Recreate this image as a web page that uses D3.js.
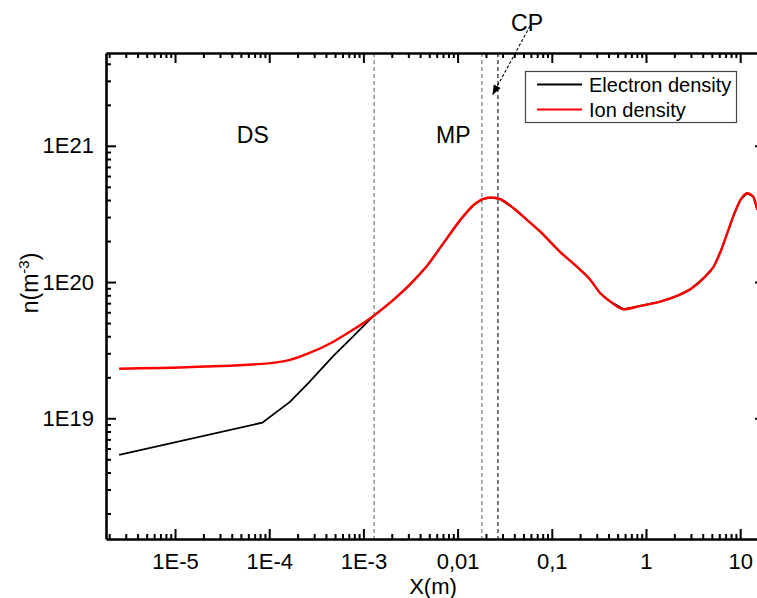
<!DOCTYPE html>
<html>
<head>
<meta charset="utf-8">
<script src="https://cdn.jsdelivr.net/npm/d3@7"></script>
<style>
  body { margin: 0; background: #fff; }
  svg { font-family: "Liberation Sans", Arial, sans-serif; }
  .axis path, .axis line { stroke: #000; }
</style>
</head>
<body>
<div id="chart"></div>
<script>
// X (m) positions where both densities were read
const positions = [2.55e-6, 8.45e-5, 1.66e-4, 2.6e-4, 4.8e-4, 7.23e-4, 1.28e-3, 2.08e-3,
  3.13e-3, 4.72e-3, 7.08e-3, 1.07e-2, 1.48e-2, 1.88e-2, 2.31e-2, 2.84e-2, 3.93e-2,
  5.45e-2, 7.55e-2, 0.123, 0.201, 0.256, 0.327, 0.419, 0.579, 0.871, 1.42, 2.14,
  2.96, 4.10, 5.24, 6.18, 7.28, 8.55, 10.07, 11.86, 13.74, 15.2];

const electronDensity = [5.38e18, 9.29e18, 1.32e19, 1.81e19, 2.87e19, 3.80e19, 5.64e19, 7.39e19,
  9.60e19, 1.31e20, 1.93e20, 2.86e20, 3.68e20, 4.08e20, 4.17e20, 4.06e20, 3.48e20,
  2.86e20, 2.34e20, 1.66e20, 1.23e20, 1.04e20, 8.28e19, 7.18e19, 6.31e19, 6.68e19, 7.18e19, 7.91e19,
  8.85e19, 1.07e20, 1.30e20, 1.67e20, 2.28e20, 3.11e20, 4.01e20, 4.49e20, 4.24e20, 3.39e20];

const ionDensity = [2.31e19, 2.51e19, 2.68e19, 2.99e19, 3.65e19, 4.33e19, 5.64e19, 7.39e19,
  9.60e19, 1.31e20, 1.93e20, 2.86e20, 3.68e20, 4.08e20, 4.17e20, 4.06e20, 3.48e20,
  2.86e20, 2.34e20, 1.66e20, 1.23e20, 1.04e20, 8.28e19, 7.18e19, 6.31e19, 6.68e19, 7.18e19, 7.91e19,
  8.85e19, 1.07e20, 1.30e20, 1.67e20, 2.28e20, 3.11e20, 4.01e20, 4.49e20, 4.24e20, 3.39e20];

const xMajorTicks = [1e-5, 1e-4, 1e-3, 1e-2, 1e-1, 1, 10];
const xTickLabels = ["1E-5", "1E-4", "1E-3", "0,01", "0,1", "1", "10"];
const yMajorTicks = [1e19, 1e20, 1e21];
const yTickLabels = ["1E19", "1E20", "1E21"];

// region boundaries (dashed verticals) and region names
const boundaries = [1.3e-3, 0.0181, 0.0268];
const boundaryColors = ["#7a7a7a", "#7a7a7a", "#222"];
const regionNames = ["DS", "MP"];
const regionCenters = [6.7e-5, 9.0e-3];

const seriesNames = ["Electron density", "Ion density"];
const seriesColors = ["#000000", "#ff0000"];

const width = 757, height = 598;
// the right frame sits just past the picture edge, as in the source figure
const plotLeft = 106, plotRight = 765, plotTop = 53, plotBottom = 539;

const x = d3.scaleLog().domain([1.85e-6, 18.34]).range([plotLeft, plotRight]);
const y = d3.scaleLog().domain([1.3e18, 4.8e21]).range([plotBottom, plotTop]);

function minorTicks(scale) {
  const [a, b] = scale.domain();
  const out = [];
  for (let e = Math.floor(Math.log10(a)); e <= Math.ceil(Math.log10(b)); e++) {
    for (let m = 2; m <= 9; m++) {
      const v = m * Math.pow(10, e);
      if (v >= a && v <= b) out.push(v);
    }
  }
  return out;
}

const svg = d3.select("#chart").append("svg")
  .attr("width", width)
  .attr("height", height);

const defs = svg.append("defs");
defs.append("clipPath").attr("id", "plot-clip")
  .append("rect")
  .attr("x", plotLeft).attr("y", plotTop)
  .attr("width", plotRight - plotLeft).attr("height", plotBottom - plotTop);

defs.append("marker")
  .attr("id", "arrow")
  .attr("viewBox", "0 0 10 10")
  .attr("refX", 10).attr("refY", 5)
  .attr("markerWidth", 10).attr("markerHeight", 10)
  .attr("markerUnits", "userSpaceOnUse")
  .attr("orient", "auto")
  .append("path")
  .attr("d", "M0,1 L10,5 L0,9 Z")
  .attr("fill", "#000");

// dashed region boundaries
svg.selectAll(".boundary")
  .data(boundaries)
  .enter()
  .append("line")
  .attr("class", "boundary")
  .attr("x1", d => x(d)).attr("x2", d => x(d))
  .attr("y1", plotTop).attr("y2", plotBottom)
  .attr("stroke", (d, i) => boundaryColors[i])
  .attr("stroke-width", 1.2)
  .attr("stroke-dasharray", "4,3");

// curves
const electronLine = d3.line()
  .x(d => x(d[0]))
  .y(d => y(d[1]));

const ionLine = d3.line()
  .x(d => x(d[0]))
  .y(d => y(d[1]))
  .curve(d3.curveMonotoneX);

const plot = svg.append("g").attr("clip-path", "url(#plot-clip)");

plot.append("path")
  .datum(positions.map((p, i) => [p, electronDensity[i]]))
  .attr("d", electronLine)
  .attr("fill", "none")
  .attr("stroke", seriesColors[0])
  .attr("stroke-width", 1.8);

plot.append("path")
  .datum(positions.map((p, i) => [p, ionDensity[i]]))
  .attr("d", ionLine)
  .attr("fill", "none")
  .attr("stroke", seriesColors[1])
  .attr("stroke-width", 2.4);

// axes
const majorLen = 10, minorLen = 5;

function drawAxis(axisFn, scale, transform, majors, labels) {
  const g = svg.append("g").attr("class", "axis").attr("transform", transform);
  g.call(axisFn(scale).tickValues(minorTicks(scale)).tickSize(-minorLen).tickFormat(""));
  g.select(".domain").remove();
  const gm = svg.append("g").attr("class", "axis").attr("transform", transform);
  gm.call(axisFn(scale).tickValues(majors).tickSize(-majorLen).tickSizeOuter(0)
    .tickPadding(labels ? 14 : 0)
    .tickFormat((d, i) => labels ? labels[i] : ""));
  gm.select(".domain").attr("stroke-width", 2.6);
  svg.selectAll(".axis line").attr("stroke-width", 2);
  return gm;
}

const gx = drawAxis(d3.axisBottom, x, `translate(0,${plotBottom})`, xMajorTicks, xTickLabels);
gx.selectAll("text").attr("font-size", 22).attr("fill", "#000")
  .attr("font-family", "Liberation Sans, Arial, sans-serif");
drawAxis(d3.axisTop, x, `translate(0,${plotTop})`, xMajorTicks, null);

const gy = drawAxis(d3.axisLeft, y, `translate(${plotLeft},0)`, yMajorTicks, yTickLabels);
gy.selectAll("text").attr("font-size", 22).attr("fill", "#000")
  .attr("font-family", "Liberation Sans, Arial, sans-serif");
gy.selectAll(".tick text").attr("x", -12);
drawAxis(d3.axisRight, y, `translate(${plotRight},0)`, yMajorTicks, null);

// axis titles
svg.append("text")
  .attr("x", 433).attr("y", 594)
  .attr("text-anchor", "middle")
  .attr("font-size", 22)
  .text("X(m)");

const yTitle = svg.append("text")
  .attr("transform", "translate(38,283) rotate(-90)")
  .attr("text-anchor", "middle")
  .attr("font-size", 23);
yTitle.append("tspan").text("n(m");
yTitle.append("tspan").attr("dy", -9).attr("font-size", 15).text("-3");
yTitle.append("tspan").attr("dy", 9).text(")");

// region names
svg.selectAll(".region")
  .data(regionNames)
  .enter()
  .append("text")
  .attr("class", "region")
  .attr("x", (d, i) => x(regionCenters[i]))
  .attr("y", 143)
  .attr("text-anchor", "middle")
  .attr("font-size", 23)
  .text(d => d);

// CP annotation with dashed arrow
svg.append("text")
  .attr("x", 527).attr("y", 31)
  .attr("text-anchor", "middle")
  .attr("font-size", 23)
  .text("CP");

svg.append("line")
  .attr("x1", 530).attr("y1", 26)
  .attr("x2", 492.5).attr("y2", 95)
  .attr("stroke", "#000")
  .attr("stroke-width", 1.1)
  .attr("stroke-dasharray", "3,2")
  .attr("marker-end", "url(#arrow)");

// legend
const legend = svg.append("g").attr("class", "legend");
legend.append("rect")
  .attr("x", 525.5).attr("y", 71.5)
  .attr("width", 211).attr("height", 51)
  .attr("fill", "#fff")
  .attr("stroke", "#444")
  .attr("stroke-width", 1.2);

const items = legend.selectAll(".item")
  .data(seriesNames)
  .enter()
  .append("g")
  .attr("class", "item")
  .attr("transform", (d, i) => `translate(0,${84.5 + i * 25})`);

items.append("line")
  .attr("x1", 537).attr("x2", 582)
  .attr("stroke", (d, i) => seriesColors[i])
  .attr("stroke-width", 1.8);

items.append("text")
  .attr("x", 589).attr("y", 7.5)
  .attr("font-size", 20)
  .text(d => d);
</script>
</body>
</html>
